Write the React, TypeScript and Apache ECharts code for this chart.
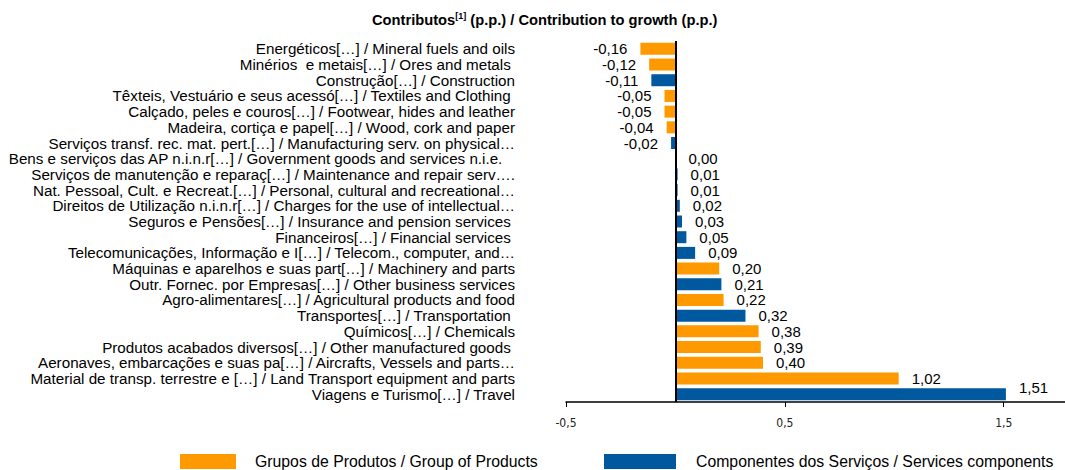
import React, { useEffect, useRef } from "react";
import * as echarts from "echarts";

const categories = [
  "Energéticos[…] / Mineral fuels and oils",
  "Minérios  e metais[…] / Ores and metals ",
  "Construção[…] / Construction",
  "Têxteis, Vestuário e seus acessó[…] / Textiles and Clothing ",
  "Calçado, peles e couros[…] / Footwear, hides and leather",
  "Madeira, cortiça e papel[…] / Wood, cork and paper",
  "Serviços transf. rec. mat. pert.[…] / Manufacturing serv. on physical…",
  "Bens e serviços das AP n.i.n.r[…] / Government goods and services n.i.e.   ",
  "Serviços de manutenção e reparaç[…] / Maintenance and repair serv….",
  "Nat. Pessoal, Cult. e Recreat.[…] / Personal, cultural and recreational…",
  "Direitos de Utilização n.i.n.r[…] / Charges for the use of intellectual…",
  "Seguros e Pensões[…] / Insurance and pension services ",
  "Financeiros[…] / Financial services ",
  "Telecomunicações, Informação e I[…] / Telecom., computer, and…",
  "Máquinas e aparelhos e suas part[…] / Machinery and parts",
  "Outr. Fornec. por Empresas[…] / Other business services",
  "Agro-alimentares[…] / Agricultural products and food",
  "Transportes[…] / Transportation ",
  "Químicos[…] / Chemicals",
  "Produtos acabados diversos[…] / Other manufactured goods ",
  "Aeronaves, embarcações e suas pa[…] / Aircrafts, Vessels and parts…",
  "Material de transp. terrestre e […] / Land Transport equipment and parts",
  "Viagens e Turismo[…] / Travel",
];

const values = [
  -0.16, -0.12, -0.11, -0.05, -0.05, -0.04, -0.02, 0.0, 0.01, 0.01, 0.02, 0.03,
  0.05, 0.09, 0.2, 0.21, 0.22, 0.32, 0.38, 0.39, 0.4, 1.02, 1.51,
];

// P = Grupos de Produtos, S = Componentes dos Serviços
const groups = [
  "P", "P", "S", "P", "P", "P", "S", "S", "S", "S", "S", "S",
  "S", "S", "P", "S", "P", "S", "P", "P", "P", "P", "S",
];

const seriesNames = [
  "Grupos de Produtos / Group of Products",
  "Componentes dos Serviços / Services components",
];

const xTickLabels = ["-0,5", "0,5", "1,5"];

const ORANGE = "#FF9900";
const BLUE = "#00589E";
const FONT = "Liberation Sans, Arial, sans-serif";

const fmt = (v: number) => v.toFixed(2).replace(".", ",");
const maxValue = Math.max(...values);

function buildData(code: string) {
  return values.map((v, i) =>
    groups[i] === code
      ? {
          value: v,
          label: {
            position: v < 0 ? "left" : "right",
            offset: v === maxValue ? [0, -7] : [0, 0],
          },
        }
      : "-"
  );
}

export default function App() {
  const ref = useRef<HTMLDivElement>(null);
  useEffect(() => {
    if (!ref.current) return;
    const chart = echarts.init(ref.current, undefined, { renderer: "svg" });
    const labelCommon = {
      show: true,
      distance: 13,
      fontFamily: FONT,
      fontSize: 15,
      color: "#000",
      formatter: (p: any) => fmt(p.value),
    };
    chart.setOption({
      animation: false,
      backgroundColor: "#fff",
      title: {
        text: "Contributos{sup|[1]} (p.p.) / Contribution to growth (p.p.)",
        left: 367,
        top: 6,
        textStyle: {
          fontFamily: FONT,
          fontSize: 14.7,
          fontWeight: "bold",
          color: "#000",
          lineHeight: 17,
          rich: {
            sup: {
              fontFamily: FONT,
              fontSize: 9,
              fontWeight: "bold",
              color: "#000",
              lineHeight: 17,
              verticalAlign: "top",
            },
          },
        },
      },
      grid: { left: 566, right: 0, top: 41, bottom: 68 },
      xAxis: {
        type: "value",
        min: -0.5,
        max: 1.78,
        interval: 1,
        axisLine: { show: true, lineStyle: { color: "#000", width: 1.5 } },
        axisTick: { show: true, length: 5, lineStyle: { color: "#000" } },
        splitLine: { show: false },
        axisLabel: {
          showMaxLabel: false,
          fontFamily: "Liberation Sans Narrow, DejaVu Sans Condensed, Arial, sans-serif",
          fontSize: 12,
          color: "#222",
          margin: 15,
          formatter: (v: number) => {
            const idx = Math.round(v + 0.5);
            return Math.abs(v - (idx - 0.5)) < 1e-6 && xTickLabels[idx] !== undefined
              ? xTickLabels[idx]
              : "";
          },
        },
      },
      yAxis: {
        type: "category",
        inverse: true,
        data: categories,
        axisLine: { show: false },
        axisTick: { show: false },
        splitLine: { show: false },
        axisLabel: {
          interval: 0,
          fontFamily: FONT,
          fontSize: 15.2,
          color: "#000",
          margin: 51,
        },
      },
      series: [
        {
          name: seriesNames[0],
          type: "bar",
          stack: "all",
          barWidth: 12,
          itemStyle: { color: ORANGE },
          label: labelCommon,
          data: buildData("P"),
          markLine: {
            silent: true,
            symbol: "none",
            label: { show: false },
            lineStyle: { color: "#000", width: 2, type: "solid" },
            data: [{ xAxis: 0 }],
          },
        },
        {
          name: seriesNames[1],
          type: "bar",
          stack: "all",
          barWidth: 12,
          itemStyle: { color: BLUE },
          label: labelCommon,
          data: buildData("S"),
        },
      ],
      graphic: [
        { type: "rect", left: 180, top: 454, shape: { width: 56, height: 15 }, style: { fill: ORANGE } },
        {
          type: "text",
          left: 255,
          top: 453,
          style: { text: seriesNames[0], font: `15.8px ${FONT}`, fill: "#000" },
        },
        { type: "rect", left: 604, top: 454, shape: { width: 72, height: 15 }, style: { fill: BLUE } },
        {
          type: "text",
          left: 696,
          top: 453,
          style: { text: seriesNames[1], font: `15.8px ${FONT}`, fill: "#000" },
        },
      ],
    });
    return () => chart.dispose();
  }, []);
  return (
    <div
      ref={ref}
      style={{ position: "absolute", left: 0, top: 0, width: 1065, height: 470 }}
    />
  );
}
